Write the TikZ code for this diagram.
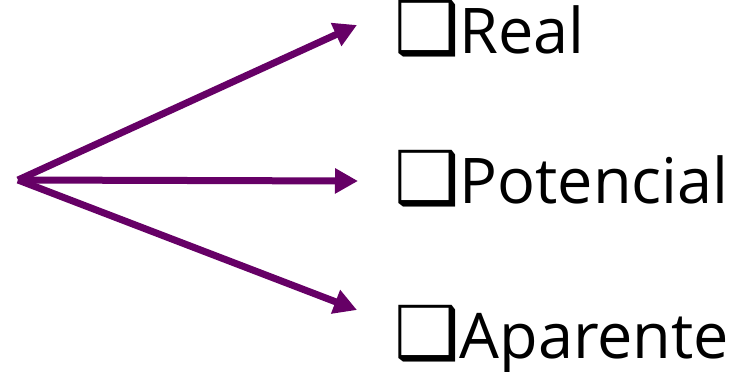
\documentclass[tikz,border=0pt]{standalone}
\usepackage{fontspec}
\setmainfont{Open Sans}
\newfontfamily\boxfont{DejaVu Sans}
\usetikzlibrary{arrows.meta}
\definecolor{arrowpurple}{HTML}{660066}

\begin{document}
\begin{tikzpicture}[
  x=1pt, y=-1pt,
  link/.style={draw=arrowpurple, line width=7pt, -{Triangle[length=23pt,width=24pt]}},
  item/.style={anchor=base west, inner sep=0pt, font=\fontsize{63}{70}\selectfont}
]
\useasboundingbox (0,0) rectangle (731,372);

\coordinate (src) at (18,180);

\node[item] (real) at (394,53) {{\boxfont\fontsize{73}{80}\selectfont ❑}Real};
\node[item] (pot) at (394,203) {{\boxfont\fontsize{73}{80}\selectfont ❑}Potencial};
\node[item] (apa) at (394,358) {{\boxfont\fontsize{73}{80}\selectfont ❑}Aparente};

\coordinate (realend) at (357,25);
\coordinate (potend) at (358,181);
\coordinate (apaend) at (357,310);

\draw[link] (src) -- (realend);
\draw[link] (src) -- (potend);
\draw[link] (src) -- (apaend);

\end{tikzpicture}
\end{document}
